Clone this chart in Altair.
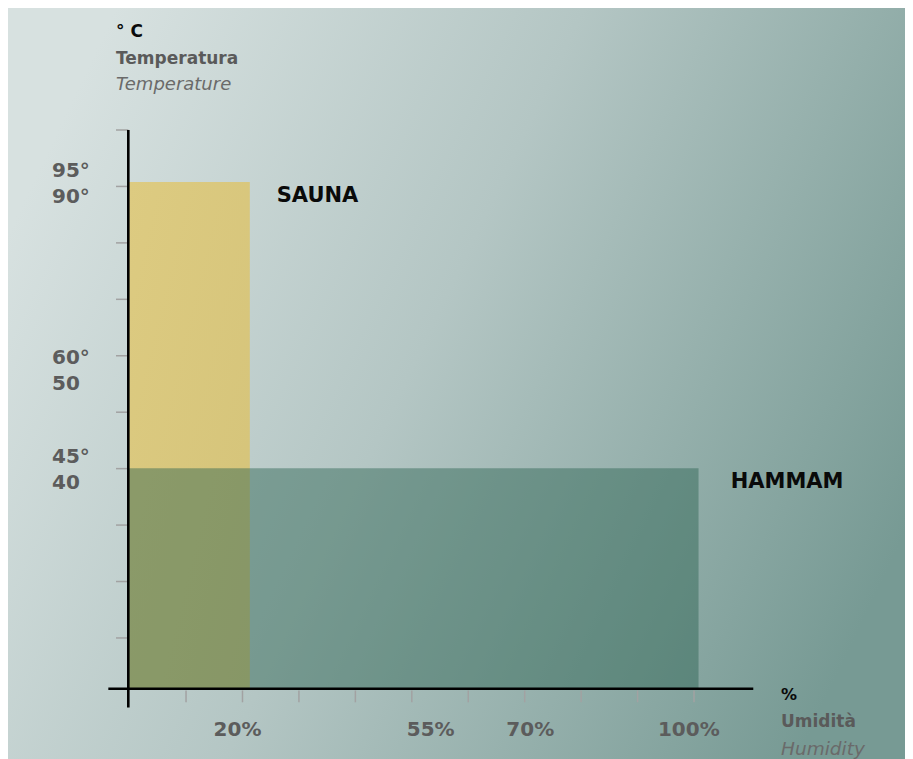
import altair as alt
import pandas as pd

W, H = 897, 751
FONT = "DejaVu Sans"

# ---- data (chart units: one tick step = 1 unit) ----
zones = ["SAUNA", "HAMMAM"]
zone_x_start = [-0.023, -0.023]
zone_x_end = [2.13, 10.08]
zone_y_start = [0.1, 0.1]
zone_y_end = [9.08, 4.006]

y_tick_values = [1, 2, 3, 4, 5, 6, 7, 8, 9, 10]
x_tick_values = [1, 2, 3, 4, 5, 6, 7, 8, 9, 10]

y_labels = ["95°", "90°", "60°", "50", "45°", "40"]
y_label_pos = [9.274, 8.813, 5.960, 5.494, 4.212, 3.746]

x_labels = ["20%", "55%", "70%", "100%"]
x_label_pos = [1.912, 5.335, 7.099, 9.908]

zone_label_x = [2.606, 10.650]
zone_label_y = [8.827, 3.769]

y_title = ["° C", "Temperatura", "Temperature"]
y_title_y = [11.731, 11.253, 10.797]
y_title_x = -0.241

x_title = ["%", "Umidità", "Humidity"]
x_title_y = [-0.011, -0.484, -0.967]
x_title_x = 11.541

x_label_y = -0.630
y_label_x = -1.375

# axis line extents
yaxis_x = -0.023
yaxis_top, yaxis_bottom = 10, -0.23
xaxis_y = 0.1
xaxis_left, xaxis_right = -0.377, 11.05
ytick_x0, ytick_x1 = -0.241, -0.023
xtick_y0, xtick_y1 = 0.07, -0.14

xs = alt.Scale(domain=[-2.1545, 13.738], nice=False, zero=False)
ys = alt.Scale(domain=[-1.1446, 12.1616], nice=False, zero=False)

bg_grad = alt.LinearGradient(
    gradient="linear",
    stops=[
        alt.GradientStop(color="#d7e1e0", offset=0),
        alt.GradientStop(color="#b4c6c4", offset=0.45),
        alt.GradientStop(color="#779a94", offset=1),
    ],
    x1=0, y1=0.3, x2=1, y2=0.7,
)
sauna_grad = alt.LinearGradient(
    gradient="linear",
    stops=[
        alt.GradientStop(color="#ddcb81", offset=0),
        alt.GradientStop(color="#d4c379", offset=1),
    ],
    x1=0, y1=0, x2=1, y2=1,
)

bg = alt.Chart(pd.DataFrame({"k": [0]})).mark_rect(fill=bg_grad).encode(
    x=alt.value(0), x2=alt.value(W), y=alt.value(0), y2=alt.value(H)
)

zdf = pd.DataFrame({"zone": zones, "x0": zone_x_start, "x1": zone_x_end,
                    "y0": zone_y_start, "y1": zone_y_end})

sauna = alt.Chart(zdf[zdf.zone == "SAUNA"]).mark_rect(fill=sauna_grad).encode(
    x=alt.X("x0:Q", scale=xs, axis=None), x2="x1:Q",
    y=alt.Y("y0:Q", scale=ys, axis=None), y2="y1:Q",
)
hammam = alt.Chart(zdf[zdf.zone == "HAMMAM"]).mark_rect(color="#2a6150", opacity=0.45).encode(
    x=alt.X("x0:Q", scale=xs, axis=None), x2="x1:Q",
    y=alt.Y("y0:Q", scale=ys, axis=None), y2="y1:Q",
)

ytk = pd.DataFrame({"y": y_tick_values, "x0": ytick_x0, "x1": ytick_x1})
yticks = alt.Chart(ytk).mark_rule(color="#a2a2a2", strokeWidth=1.5).encode(
    x=alt.X("x0:Q", scale=xs, axis=None), x2="x1:Q",
    y=alt.Y("y:Q", scale=ys, axis=None),
)
xtk = pd.DataFrame({"x": x_tick_values, "y0": xtick_y0, "y1": xtick_y1})
xticks = alt.Chart(xtk).mark_rule(color="#a2a2a2", strokeWidth=1.5).encode(
    x=alt.X("x:Q", scale=xs, axis=None),
    y=alt.Y("y0:Q", scale=ys, axis=None), y2="y1:Q",
)

yax = alt.Chart(pd.DataFrame({"x": [yaxis_x], "y0": [yaxis_top], "y1": [yaxis_bottom]})).mark_rule(
    color="#000000", strokeWidth=2.6).encode(
    x=alt.X("x:Q", scale=xs, axis=None),
    y=alt.Y("y0:Q", scale=ys, axis=None), y2="y1:Q",
)
xax = alt.Chart(pd.DataFrame({"y": [xaxis_y], "x0": [xaxis_left], "x1": [xaxis_right]})).mark_rule(
    color="#000000", strokeWidth=2.6).encode(
    x=alt.X("x0:Q", scale=xs, axis=None), x2="x1:Q",
    y=alt.Y("y:Q", scale=ys, axis=None),
)


def text_layer(labels, xs_, ys_, size, color, weight="bold", style="normal", align="left"):
    df = pd.DataFrame({"t": labels, "x": xs_, "y": ys_})
    return alt.Chart(df).mark_text(
        align=align, baseline="middle", font=FONT, fontSize=size,
        fontWeight=weight, fontStyle=style, color=color,
    ).encode(
        x=alt.X("x:Q", scale=xs, axis=None),
        y=alt.Y("y:Q", scale=ys, axis=None),
        text="t:N",
    )


t_ylab = text_layer(y_labels, [y_label_x] * len(y_labels), y_label_pos, 20, "#5c5c5c")
t_xlab = text_layer(x_labels, x_label_pos, [x_label_y] * len(x_labels), 20, "#5c5c5c", align="center")
t_zone = text_layer(zones, zone_label_x, zone_label_y, 21, "#0a0a0a")

t_yt0 = text_layer(y_title[:1], [y_title_x], y_title_y[:1], 17, "#0a0a0a")
t_yt1 = text_layer(y_title[1:2], [y_title_x], y_title_y[1:2], 17, "#5a5a5a")
t_yt2 = text_layer(y_title[2:], [y_title_x], y_title_y[2:], 18, "#6a6a6a", weight="normal", style="italic")

t_xt0 = text_layer(x_title[:1], [x_title_x], x_title_y[:1], 16, "#0a0a0a")
t_xt1 = text_layer(x_title[1:2], [x_title_x], x_title_y[1:2], 17, "#5a5a5a")
t_xt2 = text_layer(x_title[2:], [x_title_x], x_title_y[2:], 18.5, "#6a6a6a", weight="normal", style="italic")

chart = alt.layer(
    bg, sauna, hammam, yticks, xticks, yax, xax,
    t_ylab, t_xlab, t_zone, t_yt0, t_yt1, t_yt2, t_xt0, t_xt1, t_xt2,
).properties(
    width=W, height=H, padding=0, autosize=alt.AutoSizeParams(type="none")
).configure_view(stroke=None)

chart.save("out.html", embed_options={"renderer": "svg", "actions": False})
